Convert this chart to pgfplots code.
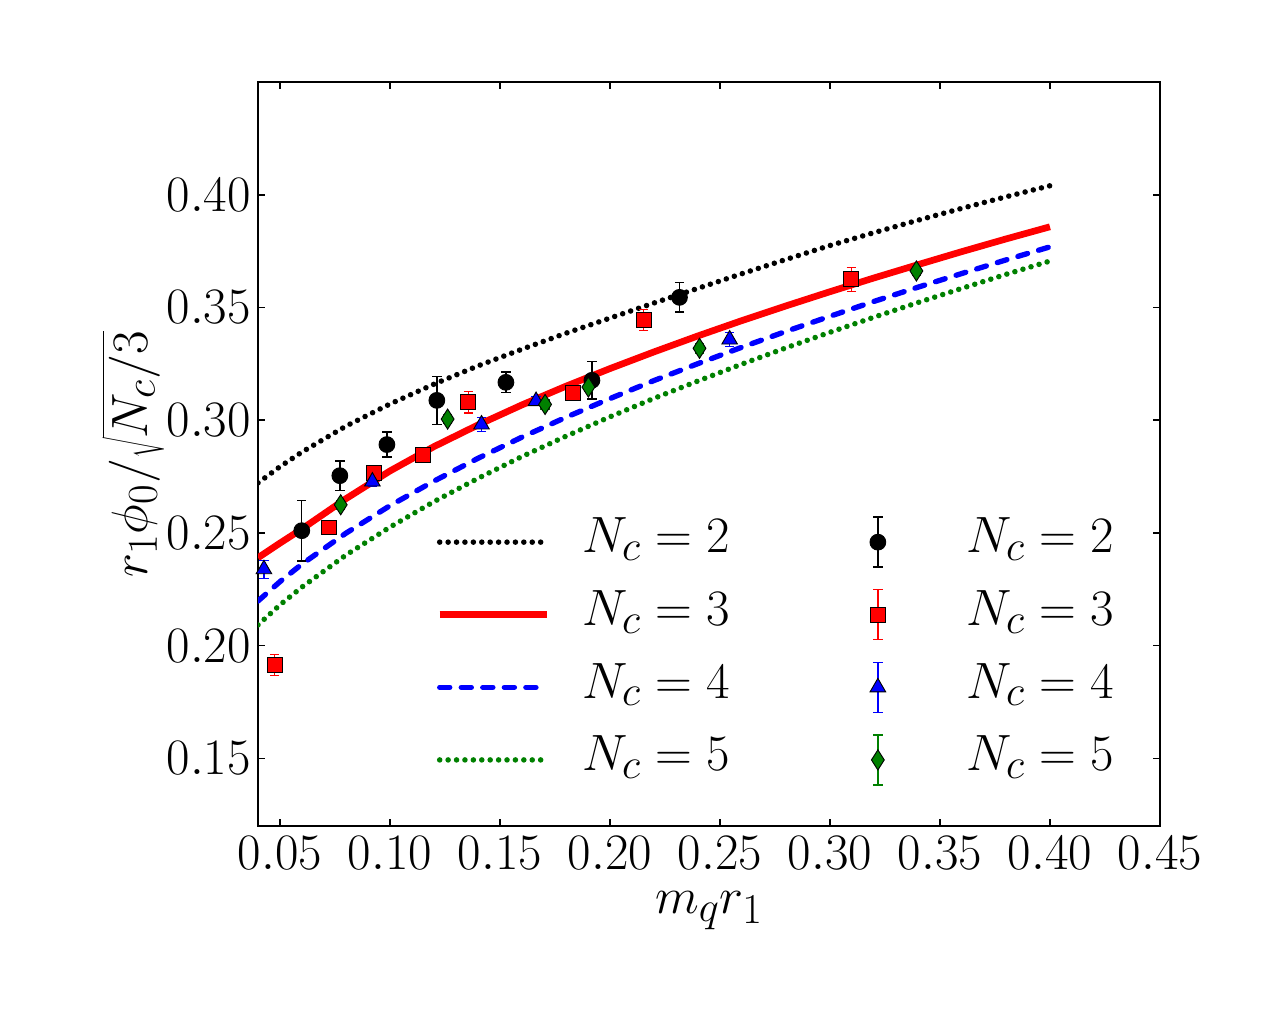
\documentclass[border=0pt]{standalone}
\usepackage{pgfplots}
\pgfplotsset{compat=1.18}
\definecolor{mplgreen}{rgb}{0,0.5,0}
\newcommand{\fs}{\fontsize{24.88}{30}\selectfont}
\pgfplotsset{
  linelegend/.style={legend image code/.code={
    \draw[##1] (0pt,0pt) -- (52.15pt,0pt);
    \path (67.75pt,0pt);}},
  errlegend/.style 2 args={legend image code/.code={
    \draw[#1, line width=0.7pt, solid] (26.08pt,-12.19pt) -- (26.08pt,12.19pt)
      (23.79pt,-12.19pt) -- (28.37pt,-12.19pt) (23.79pt,12.19pt) -- (28.37pt,12.19pt);
    \draw[#2] plot coordinates {(26.08pt,0pt)};
    \path (68.9pt,0pt) (0pt,0pt);}},
}
\begin{document}
\begin{tikzpicture}
\path[use as bounding box] (-125.75pt,-91.63pt) rectangle (492.27pt,402.6pt);
\begin{axis}[
  at={(0,0)}, anchor=south west,
  scale only axis, width=439.6pt, height=362.6pt,
  xmin=0.04, xmax=0.45, ymin=0.12, ymax=0.45,
  xtick={0.05,0.10,0.15,0.20,0.25,0.30,0.35,0.40,0.45},
  ytick={0.15,0.20,0.25,0.30,0.35,0.40},
  tick label style={font=\fs},
  xticklabel style={inner sep=0pt, yshift=-4.9pt, /pgf/number format/.cd, fixed, fixed zerofill, precision=2},
  yticklabel style={/pgf/number format/.cd, fixed, fixed zerofill, precision=2},
  label style={font=\fs},
  axis line style={line width=0.77pt},
  tick style={line width=0.77pt, black},
  major tick length=3.43pt,
  xlabel={$m_q r_1$},
  ylabel={$r_1\phi_0/\sqrt{N_c/3}$},
  xlabel style={at={(rel axis cs:0.5,-0.1142)}, anchor=center, inner sep=0pt},
  ylabel style={at={(rel axis cs:-0.1386,0.5)}, anchor=center, inner sep=0pt},
  legend columns=2,
  legend style={draw=none, fill=none, font=\fs,
    at={(rel axis cs:0.1973,0.4167)}, anchor=north west,
    inner sep=0pt, column sep=0pt, row sep=10.3pt,
    nodes={inner sep=0pt, text height=17pt, text depth=6.5pt},
    /tikz/every even column/.append style={column sep=46pt}},
]
% model curves
\addplot[forget plot, black, line width=2.7pt, line cap=round, dash pattern=on 0pt off 4.1pt] coordinates {
(0.04,0.2722)(0.05,0.2794)(0.06,0.2859)(0.08,0.2974)(0.10,0.3072)(0.12,0.3160)(0.14,0.3241)(0.16,0.3315)(0.18,0.3386)(0.20,0.3453)(0.22,0.3520)(0.24,0.3585)(0.26,0.3650)(0.28,0.3713)(0.30,0.3775)(0.32,0.3832)(0.34,0.3887)(0.36,0.3940)(0.38,0.3991)(0.40,0.4040)};
\addplot[forget plot, red, line width=3.27pt] coordinates {
(0.04,0.2390)(0.05,0.2455)(0.06,0.2518)(0.08,0.2652)(0.10,0.2775)(0.12,0.2883)(0.14,0.2979)(0.16,0.3068)(0.18,0.3151)(0.20,0.3229)(0.22,0.3303)(0.24,0.3374)(0.26,0.3442)(0.28,0.3507)(0.30,0.3570)(0.32,0.3631)(0.34,0.3690)(0.36,0.3748)(0.38,0.3804)(0.40,0.3858)};
\addplot[forget plot, blue, line width=2.6pt, line cap=round, dash pattern=on 4.9pt off 5.6pt] coordinates {
(0.04,0.2198)(0.05,0.2284)(0.06,0.2362)(0.08,0.2499)(0.10,0.2621)(0.12,0.2730)(0.14,0.2831)(0.16,0.2925)(0.18,0.3013)(0.20,0.3096)(0.22,0.3176)(0.24,0.3251)(0.26,0.3324)(0.28,0.3394)(0.30,0.3461)(0.32,0.3527)(0.34,0.3590)(0.36,0.3651)(0.38,0.3711)(0.40,0.3769)};
\addplot[forget plot, mplgreen, line width=2.7pt, line cap=round, dash pattern=on 0pt off 4.1pt] coordinates {
(0.04,0.2092)(0.05,0.2181)(0.06,0.2260)(0.08,0.2402)(0.10,0.2526)(0.12,0.2639)(0.14,0.2742)(0.16,0.2839)(0.18,0.2929)(0.20,0.3015)(0.22,0.3097)(0.24,0.3174)(0.26,0.3249)(0.28,0.3321)(0.30,0.3390)(0.32,0.3457)(0.34,0.3522)(0.36,0.3585)(0.38,0.3647)(0.40,0.3706)};
% data
\addplot[forget plot, only marks, mark=*, mark size=3.85pt, mark options={draw=black, fill=black, line width=0.45pt},
  error bars/.cd, y dir=both, y explicit,
  error bar style={black, line width=0.7pt},
  error mark options={rotate=90, mark size=2.29pt, black, line width=0.7pt}]
  table[x=x, y=y, y error=e] {
x y e
0.0599 0.2510 0.0135
0.0772 0.2754 0.0065
0.0986 0.2892 0.0055
0.1213 0.3088 0.0107
0.1527 0.3168 0.0045
0.1918 0.3177 0.0083
0.2316 0.3545 0.0065
};
\addplot[forget plot, only marks, mark=square*, mark size=3.6pt, mark options={draw=black, fill=red, line width=0.45pt},
  error bars/.cd, y dir=both, y explicit,
  error bar style={red, line width=0.7pt},
  error mark options={rotate=90, mark size=2.29pt, red, line width=0.7pt}]
  table[x=x, y=y, y error=e] {
x y e
0.0476 0.1914 0.0046
0.0724 0.2524 0.0020
0.0928 0.2765 0.0020
0.1151 0.2847 0.0020
0.1356 0.3080 0.0048
0.1833 0.3122 0.0030
0.2153 0.3444 0.0046
0.3097 0.3625 0.0053
};
\addplot[forget plot, only marks, mark=triangle*, mark size=4.38pt, mark options={draw=black, fill=blue, line width=0.45pt},
  error bars/.cd, y dir=both, y explicit,
  error bar style={blue, line width=0.7pt},
  error mark options={rotate=90, mark size=2.29pt, blue, line width=0.7pt}]
  table[x=x, y=y, y error=e] {
x y e
0.0427 0.2339 0.0040
0.0920 0.2728 0.0020
0.1416 0.2981 0.0030
0.1664 0.3085 0.0020
0.2544 0.3358 0.0030
};
\addplot[forget plot, only marks, mark=diamond*, mark size=4.9pt, mark options={xscale=0.85, draw=black, fill=mplgreen, line width=0.45pt},
  error bars/.cd, y dir=both, y explicit,
  error bar style={mplgreen, line width=0.7pt},
  error mark options={rotate=90, mark size=2.29pt, mplgreen, line width=0.7pt}]
  table[x=x, y=y, y error=e] {
x y e
0.0776 0.2625 0.0020
0.1262 0.3005 0.0020
0.1705 0.3070 0.0020
0.1902 0.3147 0.0020
0.2407 0.3319 0.0020
0.3393 0.3662 0.0020
};
% legend
\addlegendimage{linelegend, black, line width=2.7pt, line cap=round, dash pattern=on 0pt off 4.1pt}
\addlegendentry{$N_c = 2$}
\addlegendimage{errlegend={black}{only marks, mark=*, mark size=3.85pt, mark options={draw=black, fill=black, line width=0.45pt}}}
\addlegendentry{$N_c = 2$}
\addlegendimage{linelegend, red, line width=3.27pt}
\addlegendentry{$N_c = 3$}
\addlegendimage{errlegend={red}{only marks, mark=square*, mark size=3.6pt, mark options={draw=black, fill=red, line width=0.45pt}}}
\addlegendentry{$N_c = 3$}
\addlegendimage{linelegend, blue, line width=2.6pt, line cap=round, dash pattern=on 4.9pt off 5.6pt}
\addlegendentry{$N_c = 4$}
\addlegendimage{errlegend={blue}{only marks, mark=triangle*, mark size=4.38pt, mark options={draw=black, fill=blue, line width=0.45pt}}}
\addlegendentry{$N_c = 4$}
\addlegendimage{linelegend, mplgreen, line width=2.7pt, line cap=round, dash pattern=on 0pt off 4.1pt}
\addlegendentry{$N_c = 5$}
\addlegendimage{errlegend={mplgreen}{only marks, mark=diamond*, mark size=4.9pt, mark options={xscale=0.85, draw=black, fill=mplgreen, line width=0.45pt}}}
\addlegendentry{$N_c = 5$}
\end{axis}
\end{tikzpicture}
\end{document}
